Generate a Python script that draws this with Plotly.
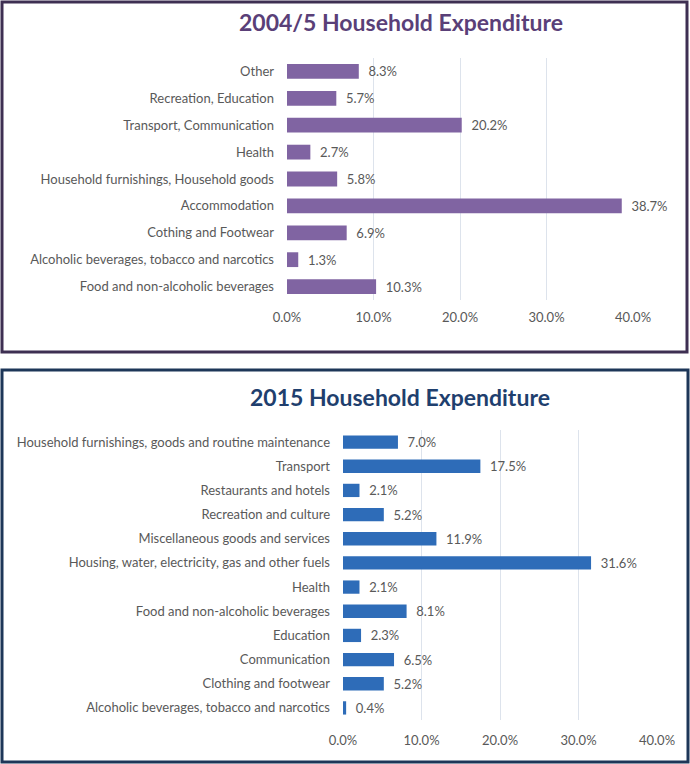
import plotly.graph_objects as go

# 2004/5 data (bottom to top)
cats_2004 = [
    "Food and non-alcoholic beverages",
    "Alcoholic beverages, tobacco and narcotics",
    "Cothing and Footwear",
    "Accommodation",
    "Household furnishings, Household goods",
    "Health",
    "Transport, Communication",
    "Recreation, Education",
    "Other",
]
vals_2004 = [10.3, 1.3, 6.9, 38.7, 5.8, 2.7, 20.2, 5.7, 8.3]

# 2015 data (bottom to top)
cats_2015 = [
    "Alcoholic beverages, tobacco and narcotics",
    "Clothing and footwear",
    "Communication",
    "Education",
    "Food and non-alcoholic beverages",
    "Health",
    "Housing, water, electricity, gas and other fuels",
    "Miscellaneous goods and services",
    "Recreation and culture",
    "Restaurants and hotels",
    "Transport",
    "Household furnishings, goods and routine maintenance",
]
vals_2015 = [0.4, 5.2, 6.5, 2.3, 8.1, 2.1, 31.6, 11.9, 5.2, 2.1, 17.5, 7.0]

tick_vals = [0, 10, 20, 30, 40]
tick_text = ["0.0%", "10.0%", "20.0%", "30.0%", "40.0%"]

W, H = 690, 764
FONT = "Lato"
TXT = "#595959"
FS = 13

fig = go.Figure()
fig.add_trace(go.Bar(
    x=vals_2004, y=cats_2004, orientation="h",
    marker=dict(color="#8064a2", line=dict(width=0)),
    width=0.55,
    text=[f"\u00a0\u00a0{v:.1f}%" for v in vals_2004], textposition="outside",
    constraintext="none",
    textfont=dict(family=FONT, size=FS, color=TXT),
    cliponaxis=False, xaxis="x", yaxis="y", showlegend=False,
))
fig.add_trace(go.Bar(
    x=vals_2015, y=cats_2015, orientation="h",
    marker=dict(color="#2e6cb8", line=dict(width=0)),
    width=0.55,
    text=[f"\u00a0\u00a0{v:.1f}%" for v in vals_2015], textposition="outside",
    constraintext="none",
    textfont=dict(family=FONT, size=FS, color=TXT),
    cliponaxis=False, xaxis="x2", yaxis="y2", showlegend=False,
))

def px_x(p):
    return p / W

def px_y(p):
    return 1 - p / H

axis_common = dict(
    range=[0, 40], tickvals=tick_vals, ticktext=tick_text,
    showgrid=True, gridcolor="#dde3ec", gridwidth=1,
    zeroline=False, showline=False, ticks="", automargin=False,
    tickfont=dict(family=FONT, size=FS, color=TXT),
    fixedrange=True,
)
yaxis_common = dict(
    showgrid=False, zeroline=False, showline=False, ticks="", automargin=False,
    tickfont=dict(family=FONT, size=FS, color=TXT),
    ticklabelstandoff=12, fixedrange=True,
)

fig.update_layout(
    width=W, height=H,
    margin=dict(l=0, r=0, t=0, b=0, autoexpand=False),
    paper_bgcolor="white", plot_bgcolor="white",
    xaxis=dict(domain=[px_x(287), px_x(633)], anchor="y", ticklabelstandoff=8, **axis_common),
    yaxis=dict(domain=[px_y(300), px_y(58)], anchor="x", categoryorder="array",
               categoryarray=cats_2004, **yaxis_common),
    xaxis2=dict(domain=[px_x(343), px_x(657)], anchor="y2", ticklabelstandoff=11, **axis_common),
    yaxis2=dict(domain=[px_y(720), px_y(430)], anchor="x2", categoryorder="array",
                categoryarray=cats_2015, **yaxis_common),
    shapes=[
        dict(type="rect", xref="paper", yref="paper",
             x0=px_x(2), x1=px_x(687), y0=px_y(352), y1=px_y(2),
             line=dict(color="#3e2f52", width=3)),
        dict(type="rect", xref="paper", yref="paper",
             x0=px_x(2), x1=px_x(688), y0=px_y(762), y1=px_y(370),
             line=dict(color="#1d3658", width=3)),
    ],
    annotations=[
        dict(text="<b>2004/5 Household Expenditure</b>", xref="paper", yref="paper",
             x=px_x(401), y=px_y(22), xanchor="center", yanchor="middle",
             showarrow=False, font=dict(family=FONT, size=23, color="#5a3f78")),
        dict(text="<b>2015 Household Expenditure</b>", xref="paper", yref="paper",
             x=px_x(400), y=px_y(397), xanchor="center", yanchor="middle",
             showarrow=False, font=dict(family=FONT, size=23, color="#1f3f6e")),
    ],
)

fig.write_html("out.html", config={"displayModeBar": False},
               post_script="document.body.style.margin='0';")
